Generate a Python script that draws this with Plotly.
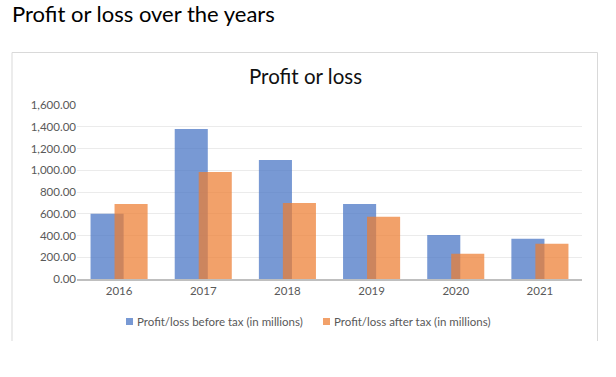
import plotly.graph_objects as go

years = ["2016", "2017", "2018", "2019", "2020", "2021"]
before_tax = [600, 1380, 1095, 690, 405, 370]
after_tax = [690, 985, 700, 572, 232, 325]
series_names = ["Profit/loss before tax (in millions)", "Profit/loss after tax (in millions)"]
y_ticks = [0, 200, 400, 600, 800, 1000, 1200, 1400, 1600]

FONT = "Lato"
BLUE = "rgba(68,114,196,0.72)"
ORANGE = "rgba(237,125,49,0.72)"

fig = go.Figure()
fig.add_trace(go.Bar(x=years, y=before_tax, name=series_names[0], marker_color=BLUE,
                     marker_line_width=0, width=0.393, offset=-0.339, showlegend=False))
fig.add_trace(go.Bar(x=years, y=after_tax, name=series_names[1], marker_color=ORANGE,
                     marker_line_width=0, width=0.393, offset=-0.054, showlegend=False))

W, H = 616, 377
L, R, T, B = 77, 34, 105, 98
fig.update_layout(
    width=W, height=H, barmode="overlay",
    margin=dict(l=L, r=R, t=T, b=B),
    paper_bgcolor="white", plot_bgcolor="white",
    font=dict(family=FONT, size=11.5, color="#595959"),
)
fig.update_xaxes(type="category", range=[-0.5, 5.5], showline=True, linecolor="#BFBFBF",
                 linewidth=2, showgrid=False, ticks="", tickfont=dict(size=11.5, color="#595959"))
fig.update_yaxes(range=[0, 1600], tickvals=y_ticks, tickformat=",.2f", showgrid=True,
                 gridcolor="#EBEBEB", gridwidth=1, zeroline=False, showline=False, ticks="",
                 tickfont=dict(size=11.5, color="#595959"))

# chart box (left, top, right borders)
box = dict(type="line", xref="paper", yref="paper", line=dict(color="#D9D9D9", width=1))
def px(xp):
    return (xp - L) / (W - L - R)
def py(yp):
    return (H - B - yp) / (H - T - B)
fig.add_shape(**box, x0=px(12), x1=px(12), y0=py(341), y1=py(52.5))
fig.add_shape(**box, x0=px(12), x1=px(597.5), y0=py(52.5), y1=py(52.5))
fig.add_shape(**box, x0=px(597.5), x1=px(597.5), y0=py(341), y1=py(52.5))

# page title
fig.add_annotation(text="Profit or loss over the years", xref="paper", yref="paper",
                   x=px(10), y=py(13), xanchor="left", yanchor="middle", showarrow=False,
                   font=dict(family=FONT, size=22, color="#000000"))
# chart title
fig.add_annotation(text="Profit or loss", xref="paper", yref="paper",
                   x=px(305), y=py(76), xanchor="center", yanchor="middle", showarrow=False,
                   font=dict(family=FONT, size=20.5, color="#111111"))

# legend (manual)
legend_items = [(126, BLUE, series_names[0]), (323, ORANGE, series_names[1])]
for x0, col, name in legend_items:
    fig.add_shape(type="rect", xref="paper", yref="paper", x0=px(x0), x1=px(x0 + 7),
                  y0=py(325), y1=py(318), fillcolor=col, line=dict(width=0))
    fig.add_annotation(text=name, xref="paper", yref="paper", x=px(x0 + 9), y=py(321.5),
                       xanchor="left", yanchor="middle", showarrow=False,
                       font=dict(family=FONT, size=11.5, color="#595959"))

fig.write_html("out.html", config={"displayModeBar": False},
               post_script="document.body.style.margin='0';document.body.style.overflow='hidden';")
